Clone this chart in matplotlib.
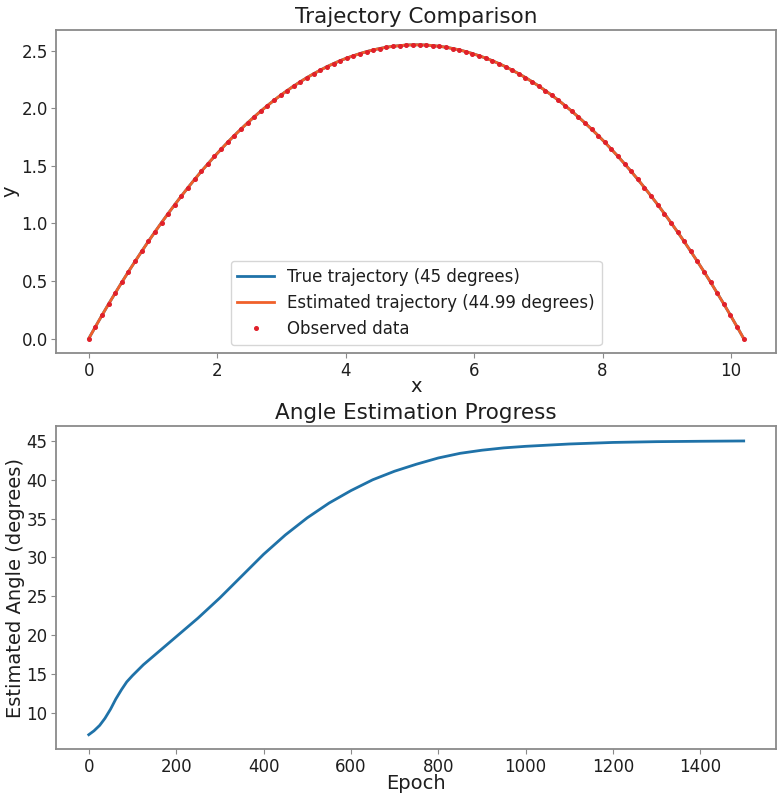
import matplotlib
matplotlib.use("Agg")
import matplotlib.pyplot as plt

# projectile positions sampled along the flight (x in m, y in m)
x_obs = [0.000, 0.103, 0.206, 0.309, 0.412, 0.515, 0.618, 0.721, 0.824, 0.927,
         1.030, 1.133, 1.236, 1.339, 1.442, 1.545, 1.648, 1.751, 1.854, 1.957,
         2.060, 2.163, 2.266, 2.369, 2.472, 2.575, 2.678, 2.781, 2.884, 2.987,
         3.090, 3.193, 3.296, 3.399, 3.502, 3.605, 3.708, 3.811, 3.914, 4.017,
         4.120, 4.223, 4.326, 4.429, 4.532, 4.635, 4.738, 4.841, 4.944, 5.047,
         5.150, 5.253, 5.356, 5.459, 5.562, 5.665, 5.768, 5.871, 5.974, 6.077,
         6.180, 6.283, 6.386, 6.489, 6.592, 6.695, 6.798, 6.901, 7.004, 7.107,
         7.210, 7.313, 7.416, 7.519, 7.622, 7.725, 7.828, 7.931, 8.034, 8.137,
         8.240, 8.343, 8.446, 8.549, 8.652, 8.755, 8.858, 8.961, 9.064, 9.167,
         9.270, 9.373, 9.476, 9.579, 9.682, 9.785, 9.888, 9.991, 10.094, 10.197]
y_obs = [0.000, 0.102, 0.202, 0.300, 0.395, 0.489, 0.581, 0.670, 0.757, 0.843,
         0.926, 1.007, 1.086, 1.163, 1.238, 1.311, 1.382, 1.451, 1.517, 1.582,
         1.644, 1.705, 1.763, 1.819, 1.873, 1.925, 1.975, 2.023, 2.069, 2.113,
         2.154, 2.194, 2.231, 2.267, 2.300, 2.331, 2.361, 2.388, 2.413, 2.436,
         2.456, 2.475, 2.492, 2.507, 2.519, 2.530, 2.538, 2.544, 2.549, 2.551,
         2.551, 2.549, 2.544, 2.538, 2.530, 2.519, 2.507, 2.492, 2.475, 2.456,
         2.436, 2.413, 2.388, 2.361, 2.331, 2.300, 2.267, 2.231, 2.194, 2.154,
         2.113, 2.069, 2.023, 1.975, 1.925, 1.873, 1.819, 1.763, 1.705, 1.644,
         1.582, 1.517, 1.451, 1.382, 1.311, 1.238, 1.163, 1.086, 1.007, 0.926,
         0.843, 0.757, 0.670, 0.581, 0.489, 0.395, 0.300, 0.202, 0.102, 0.000]
y_true = y_obs
y_est = y_obs

# estimated launch angle during training
epochs = [0, 12, 25, 37, 50, 62, 75, 87, 100, 125, 150, 175, 200, 250, 300,
          350, 400, 450, 500, 550, 600, 650, 700, 750, 800, 850, 900, 950,
          1000, 1100, 1200, 1300, 1400, 1499]
angles = [7.2, 7.7, 8.4, 9.3, 10.5, 11.8, 13.0, 14.0, 14.8, 16.2, 17.4, 18.6,
          19.8, 22.2, 24.8, 27.6, 30.4, 32.9, 35.1, 37.0, 38.6, 40.0, 41.1,
          42.0, 42.8, 43.4, 43.8, 44.1, 44.3, 44.6, 44.8, 44.9, 44.95, 44.99]

txt = "#1e1e1e"
spine = "#8a8a8a"
blue = "#1f72a8"
orange = "#f0602a"

fig, (ax1, ax2) = plt.subplots(2, 1, figsize=(7.78, 7.93), dpi=100)
fig.subplots_adjust(left=0.072, right=0.998, top=0.962, bottom=0.055, hspace=0.226)

ax1.plot(x_obs, y_true, color=blue, lw=2, label="True trajectory (45 degrees)")
ax1.plot(x_obs, y_est, color=orange, lw=2, label="Estimated trajectory (44.99 degrees)")
ax1.plot(x_obs, y_obs, "o", color="#e0202a", ms=2.6, label="Observed data")
ax1.set_title("Trajectory Comparison", fontsize=15.5, color=txt, pad=5)
ax1.set_xlabel("x", fontsize=14, color=txt, labelpad=-2)
ax1.set_ylabel("y", fontsize=14, color=txt, labelpad=1)
leg = ax1.legend(loc="lower center", fontsize=12, handlelength=2.2)
for t in leg.get_texts():
    t.set_color(txt)

ax2.plot(epochs, angles, color=blue, lw=2)
ax2.set_title("Angle Estimation Progress", fontsize=15.5, color=txt, pad=5)
ax2.set_xlabel("Epoch", fontsize=14, color=txt, labelpad=-1)
ax2.set_ylabel("Estimated Angle (degrees)", fontsize=14, color=txt, labelpad=1)

for ax in (ax1, ax2):
    for s in ax.spines.values():
        s.set_color(spine)
        s.set_linewidth(1.3)
    ax.tick_params(labelsize=12, colors=spine, labelcolor=txt, pad=2.5)

fig.savefig("out.png", dpi=100)
